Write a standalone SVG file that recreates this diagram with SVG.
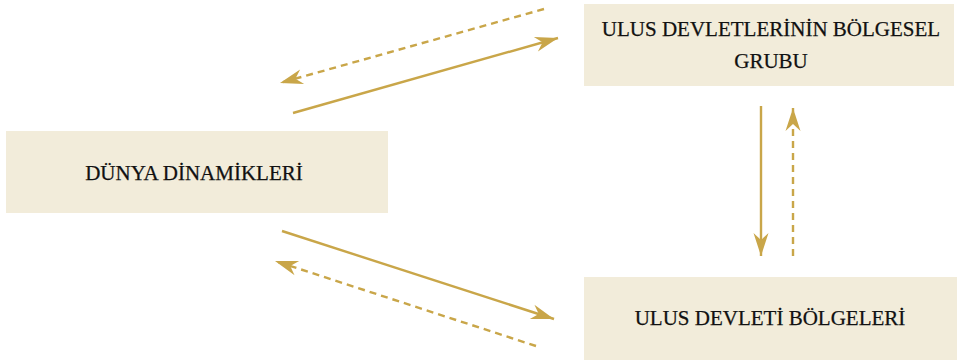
<svg xmlns="http://www.w3.org/2000/svg" width="957" height="360" viewBox="0 0 957 360">
<style>
.box{fill:#F2ECDA;}
.lbl{font-family:"Liberation Serif","DejaVu Serif",serif;font-size:21px;fill:#111;text-anchor:middle;stroke:#111;stroke-width:0.25;}
.ln{stroke:#C9A649;stroke-width:2.4;fill:none;}
.dash{stroke-dasharray:7 5;}
</style>
<defs>
<marker id="ah" markerUnits="userSpaceOnUse" markerWidth="26" markerHeight="20" viewBox="-24 -10 26 20" refX="0" refY="0" orient="auto">
<path d="M0,0 L-23,-7.5 L-16,0 L-23,7.5 Z" fill="#C9A649"/>
</marker>
</defs>
<rect width="957" height="360" fill="#fff"/>
<g id="node-dunya">
<rect class="box" x="6" y="131" width="382" height="82"/>
<text class="lbl" x="194" y="180">DÜNYA DİNAMİKLERİ</text>
</g>
<g id="node-grup">
<rect class="box" x="584" y="4" width="370" height="82"/>
<text class="lbl" x="771" y="36">ULUS DEVLETLERİNİN BÖLGESEL</text>
<text class="lbl" x="771" y="68">GRUBU</text>
</g>
<g id="node-bolge">
<rect class="box" x="584" y="277" width="373" height="83"/>
<text class="lbl" x="770" y="325">ULUS DEVLETİ BÖLGELERİ</text>
</g>
<g id="connectors">
<line class="ln dash" x1="544" y1="9" x2="280" y2="83" marker-end="url(#ah)"/>
<line class="ln" x1="293" y1="113" x2="558" y2="38" marker-end="url(#ah)"/>
<line class="ln" x1="282" y1="231" x2="554" y2="319" marker-end="url(#ah)"/>
<line class="ln dash" x1="536" y1="346" x2="275" y2="261" marker-end="url(#ah)"/>
<line class="ln" x1="761" y1="106" x2="761" y2="256" marker-end="url(#ah)"/>
<line class="ln dash" x1="793" y1="256" x2="793" y2="108" marker-end="url(#ah)"/>
</g>
</svg>
